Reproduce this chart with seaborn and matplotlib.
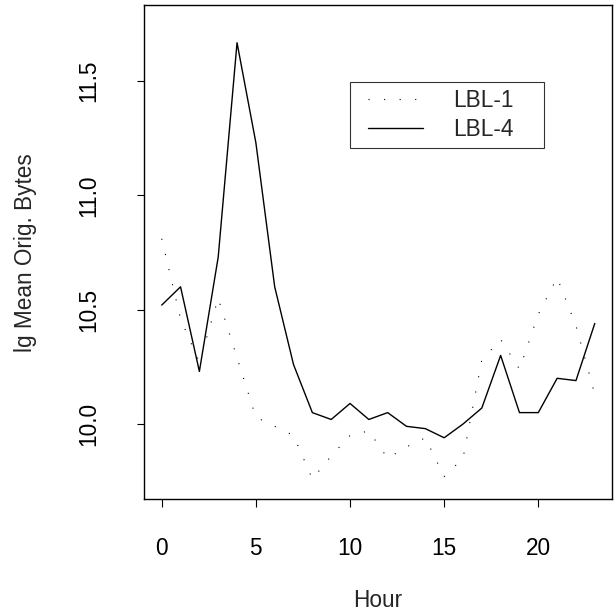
import matplotlib
matplotlib.use("Agg")
import matplotlib.pyplot as plt
from matplotlib.lines import Line2D
from matplotlib.legend_handler import HandlerLine2D
import seaborn as sns
import pandas as pd

# hourly values
hours = list(range(24))
lbl1 = [10.81, 10.46, 10.27, 10.55, 10.29, 10.03, 9.99, 9.95, 9.76, 9.86,
        9.95, 9.97, 9.85, 9.90, 9.94, 9.77, 9.85, 10.28, 10.37, 10.24,
        10.48, 10.64, 10.43, 10.13]
lbl4 = [10.52, 10.60, 10.23, 10.73, 11.667, 11.23, 10.60, 10.26, 10.05, 10.02,
        10.09, 10.02, 10.05, 9.99, 9.98, 9.94, 10.00, 10.07, 10.30, 10.05,
        10.05, 10.20, 10.19, 10.44]
seriesNames = ["LBL-1", "LBL-4"]
xTicks = [0, 5, 10, 15, 20]
yTicks = [10.0, 10.5, 11.0, 11.5]
yTickLabels = ["10.0", "10.5", "11.0", "11.5"]

FS = 16.3


def makePlot() -> None:
    sns.set_style("white")
    plt.rcParams["font.family"] = ["Liberation Sans", "DejaVu Sans"]

    df1 = pd.DataFrame({"hour": hours, "value": lbl1})
    df4 = pd.DataFrame({"hour": hours, "value": lbl4})

    fig = plt.figure(figsize=(6.16, 6.14), dpi=100)
    ax = fig.add_axes([0.2338, 0.1868, 0.7602, 0.8051])

    sns.lineplot(data=df1, x="hour", y="value", ax=ax, color="black",
                 linewidth=0.8, linestyle=(0, (1, 13)), label=seriesNames[0])
    sns.lineplot(data=df4, x="hour", y="value", ax=ax, color="black",
                 linewidth=1.0, label=seriesNames[1])

    ax.set_xlim(-0.94, 23.93)
    ax.set_ylim(9.671, 11.832)
    ax.set_xticks(xTicks)
    ax.set_xticklabels([str(t) for t in xTicks])
    ax.set_yticks(yTicks)
    ax.set_yticklabels(yTickLabels, rotation=90, va="center")

    ax.tick_params(axis="both", direction="out", length=5.4, width=0.8,
                   color="black", labelsize=FS, labelcolor="black",
                   bottom=True, left=True)
    ax.tick_params(axis="x", pad=21.5)
    ax.tick_params(axis="y", pad=26)

    for spine in ax.spines.values():
        spine.set_color("black")
        spine.set_linewidth(1.0)

    ax.set_xlabel("Hour", fontsize=FS)
    ax.set_ylabel("lg Mean Orig. Bytes", fontsize=FS)
    ax.xaxis.label.set_va("center")
    ax.yaxis.label.set_va("center")
    ax.xaxis.set_label_coords(0.5, -0.205)
    ax.yaxis.set_label_coords(-0.254, 0.5)

    # legend box like R's: handle inset from the left border, fixed width
    leg = ax.legend(loc="upper left", bbox_to_anchor=(0.44, 0.71, 0.414, 0.135),
                    mode="expand", fontsize=FS, frameon=True, fancybox=False,
                    handlelength=2.87, handletextpad=1.33, borderpad=0.336,
                    labelspacing=0.245, borderaxespad=0,
                    handler_map={Line2D: HandlerLine2D(xpad=0.444)})
    leg.get_frame().set_edgecolor("black")
    leg.get_frame().set_linewidth(0.8)

    fig.savefig("out.png", dpi=100)
    plt.close(fig)


if __name__ == "__main__":
    makePlot()
